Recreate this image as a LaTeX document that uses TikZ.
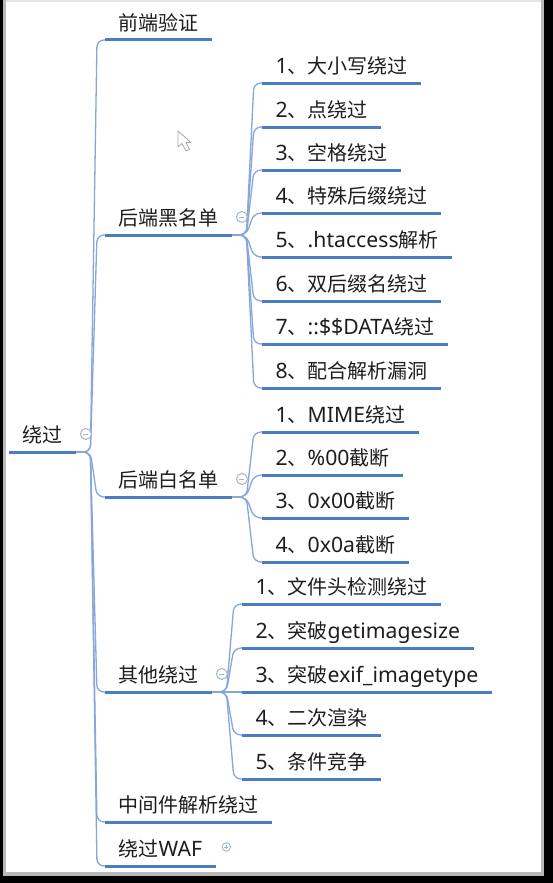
\documentclass[tikz,border=0pt]{standalone}
\usepackage{fontspec}
\setmainfont{Noto Sans CJK SC}
\newfontfamily\lat{Noto Sans}[Scale=1.06]
\usetikzlibrary{calc}
\pgfdeclarelayer{frame}
\pgfdeclarelayer{background}
\pgfsetlayers{frame,background,main}
\definecolor{ulc}{HTML}{4A7DC4}
\definecolor{cnc}{HTML}{86A7D8}
\definecolor{txc}{HTML}{1E1E1E}
\definecolor{btc}{HTML}{A3B5CC}
\tikzset{
  topic/.style={anchor=base west, inner xsep=13.5pt, inner ysep=0pt,
    font=\fontsize{20pt}{24pt}\selectfont, text=txc},
  uline/.style={draw=ulc, line width=3pt},
  conn/.style={draw=cnc, line width=1.3pt, rounded corners=7pt},
  btn/.style={circle, draw=btc, line width=1pt, fill=white, minimum size=11pt, inner sep=0pt},
  smallbtn/.style={circle, draw=btc, line width=0.9pt, fill=white, minimum size=8.5pt, inner sep=0pt},
  btnmark/.style={draw=btc, line width=1pt}
}
\newcommand\topic[4]{%
  \coordinate (#1-s) at (#2 |- 0,#3);
  \node[topic] (#1) at ($(#1-s)+(0,-9.5)$) {#4};
  \coordinate (#1-e) at (#1.base east |- #1-s);
  \draw[uline] (#1-s) -- (#1-e);}
\newcommand\conn[2]{%
  \begin{pgfonlayer}{background}
  \draw[conn] (#1-e) -- ($(#1-e)+(14,0)$) -- ($(#2-s)+(-8,0)$) -- ($(#2-s)+(8,0)$);
  \end{pgfonlayer}}
\newcommand\minusbtn[1]{%
  \node[btn] (#1-b) at ($(#1-e)+(9.5,-18)$) {};
  \draw[btnmark] ($(#1-b)+(-2.5,0)$) -- ($(#1-b)+(2.5,0)$);}
\newcommand\plusbtn[1]{%
  \node[smallbtn] (#1-b) at ($(#1-e)+(10.5,-19)$) {};
  \draw[btnmark] ($(#1-b)+(-2,0)$) -- ($(#1-b)+(2,0)$)
                 ($(#1-b)+(0,-2)$) -- ($(#1-b)+(0,2)$);}
\begin{document}
\begin{tikzpicture}[x=1pt,y=-1pt]
\useasboundingbox (0,0) rectangle (553,883);
\begin{pgfonlayer}{frame}
  \fill[black] (0,0) rectangle (553,883);
  \fill[gray!55] (3,0) rectangle (544,876);
  \fill[white] (6,2) rectangle (541,872);
  \fill[gray!20] (6,0) rectangle (541,2);
\end{pgfonlayer}
% mouse cursor
\draw[gray!70, fill=white, line width=0.8pt, line join=round]
  (178,131) -- (178,147) -- (182,143.5) -- (186,151) -- (189.5,149.5)
  -- (186,142.5) -- (191,142.5) -- cycle;

\coordinate (x0) at (9,0);
\coordinate (x1) at (105,0);
% root
\topic{root}{x0}{452}{绕过}
\minusbtn{root}
% level 1
\topic{fe}{x1}{40}{前端验证}
\topic{hb}{x1}{235}{后端黑名单}
\topic{hw}{x1}{497}{后端白名单}
\topic{qt}{x1}{692}{其他绕过}
\topic{zj}{x1}{822}{中间件解析绕过}
\topic{waf}{x1}{866}{绕过{\lat WAF}}
\minusbtn{hb}
\minusbtn{hw}
\minusbtn{qt}
\plusbtn{waf}
\foreach \c in {fe,hb,hw,qt,zj,waf}{\conn{root}{\c}}
% level 2 : 后端黑名单
\coordinate (x2a) at ($(hb-e)+(29.5,0)$);
\topic{b1}{x2a}{83}{{\lat 1}、大小写绕过}
\topic{b2}{x2a}{127}{{\lat 2}、点绕过}
\topic{b3}{x2a}{170}{{\lat 3}、空格绕过}
\topic{b4}{x2a}{213}{{\lat 4}、特殊后缀绕过}
\topic{b5}{x2a}{257}{{\lat 5}、{\lat .htaccess}解析}
\topic{b6}{x2a}{301}{{\lat 6}、双后缀名绕过}
\topic{b7}{x2a}{344}{{\lat 7}、{\lat ::\$\$DATA}绕过}
\topic{b8}{x2a}{388}{{\lat 8}、配合解析漏洞}
\foreach \c in {b1,b2,b3,b4,b5,b6,b7,b8}{\conn{hb}{\c}}
% level 2 : 后端白名单
\coordinate (x2b) at ($(hw-e)+(29.5,0)$);
\topic{w1}{x2b}{432}{{\lat 1}、{\lat MIME}绕过}
\topic{w2}{x2b}{475}{{\lat 2}、{\lat \%00}截断}
\topic{w3}{x2b}{518}{{\lat 3}、{\lat 0x00}截断}
\topic{w4}{x2b}{562}{{\lat 4}、{\lat 0x0a}截断}
\foreach \c in {w1,w2,w3,w4}{\conn{hw}{\c}}
% level 2 : 其他绕过
\coordinate (x2c) at ($(qt-e)+(29.5,0)$);
\topic{q1}{x2c}{604}{{\lat 1}、文件头检测绕过}
\topic{q2}{x2c}{648}{{\lat 2}、突破{\lat getimagesize}}
\topic{q3}{x2c}{692}{{\lat 3}、突破{\lat exif\_imagetype}}
\topic{q4}{x2c}{735}{{\lat 4}、二次渲染}
\topic{q5}{x2c}{779}{{\lat 5}、条件竞争}
\foreach \c in {q1,q2,q3,q4,q5}{\conn{qt}{\c}}
\end{tikzpicture}
\end{document}
